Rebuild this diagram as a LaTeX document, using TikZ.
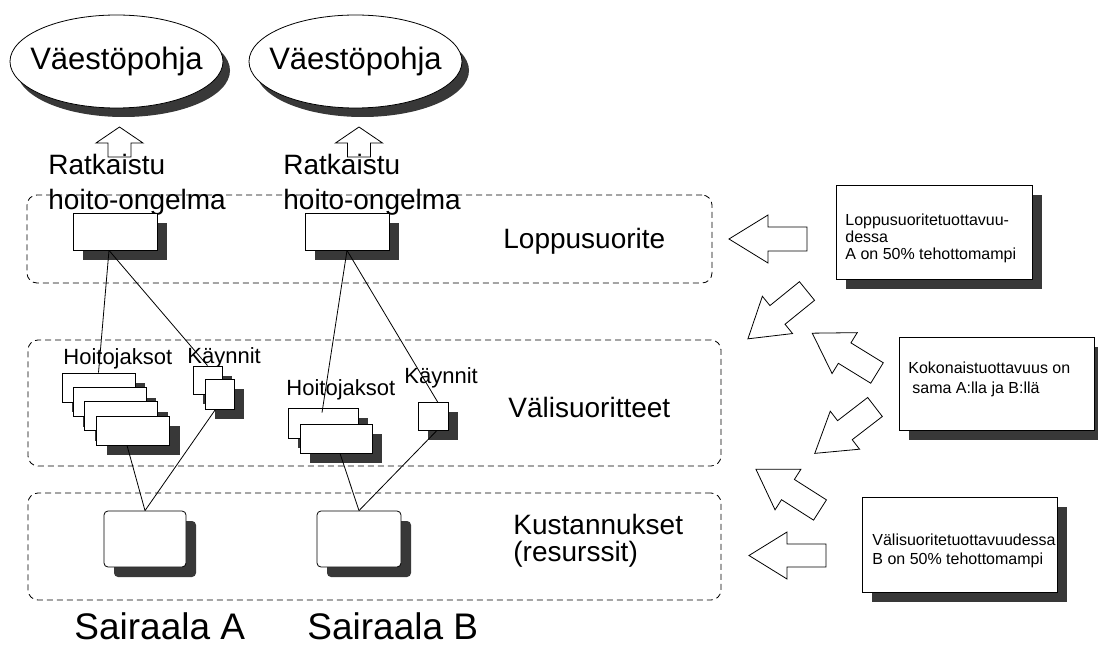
\documentclass[tikz,border=0pt]{standalone}
\usepackage{fontspec}
\setmainfont{Liberation Sans}
\usetikzlibrary{shapes,
                shapes.geometric,
                shadows,
                calc,
                positioning}

\begin{document}
\begin{tikzpicture}[
				x=1pt, y=-1pt,
				line width=0.8pt,
				shade box/.style={draw, fill=white, inner sep=0pt,
					drop shadow={shadow xshift=10pt, shadow yshift=-10pt, fill=black!78, opacity=1}},
				pop node/.style={ellipse, draw, fill=white, inner sep=0pt,
					minimum width=213pt, minimum height=93pt,
					label={[font=\fontsize{31}{37}\selectfont, inner sep=0pt]center:Väestöpohja},
					drop shadow={shadow xshift=7pt, shadow yshift=-9pt, fill=black!78, opacity=1}},
				layer/.style={draw, dash pattern=on 6pt off 4pt, rounded corners=10pt, inner sep=0pt},
				big label/.style={anchor=base west, inner sep=0pt, align=left, font=\fontsize{28}{35}\selectfont},
				unit label/.style={anchor=base west, inner sep=0pt, font=\fontsize{22}{26}\selectfont},
				note text/.style={anchor=base west, inner sep=0pt, align=left, font=\fontsize{16}{17.5}\selectfont},
				pics/blockarr/.style n args={4}{code={
					\draw[fill=white] (0,-#4) -- ({#1-#2},-#4) -- ({#1-#2},-#3) -- (#1,0)
						-- ({#1-#2},#3) -- ({#1-#2},#4) -- (0,#4) -- cycle;
				}}
				]
		\useasboundingbox (0,0) rectangle (1098,647);

		\node[layer, minimum width=685pt, minimum height=88pt] (lop) at (369.5,239) {};
		\node[layer, minimum width=693pt, minimum height=126pt] (val) at (374.5,403) {};
		\node[layer, minimum width=693pt, minimum height=107pt] (kus) at (374.5,546.5) {};

		\node[pop node] (popA) at (116.5,61.5) {};
		\node[pop node] (popB) at (355.5,61.5) {};

		\pic[rotate=90] at (119.5,157) {blockarr={30}{16}{23.5}{11.5}};
		\pic[rotate=90] at (359,157) {blockarr={30}{16}{23.5}{11.5}};

		\node[big label] (ratA) at (48,210) {Ratkaistu\\hoito-ongelma};
		\node[big label] (ratB) at (283,210) {Ratkaistu\\hoito-ongelma};

		\node[shade box, minimum width=84pt, minimum height=37pt] (lA) at (115,231.5) {};
		\node[shade box, minimum width=84pt, minimum height=37pt] (lB) at (347,231.5) {};

		\node[unit label] (hjA) at (63,364) {Hoitojaksot};
		\node[unit label] (kyA) at (187,363) {Käynnit};
		\node[shade box, minimum width=73pt, minimum height=29pt] (hA1) at (98.5,387.5) {};
		\node[shade box, minimum width=73pt, minimum height=29pt] (hA2) at (109.5,402) {};
		\node[shade box, minimum width=73pt, minimum height=29pt] (hA3) at (121,416) {};
		\node[shade box, minimum width=73pt, minimum height=29pt] (hA4) at (133,430.5) {};
		\node[shade box, minimum width=29pt, minimum height=28pt] (kA1) at (207.5,380) {};
		\node[shade box, minimum width=29pt, minimum height=30pt] (kA2) at (219.5,394) {};

		\node[unit label] (hjB) at (286,395) {Hoitojaksot};
		\node[unit label] (kyB) at (404,383) {Käynnit};
		\node[shade box, minimum width=70pt, minimum height=30pt] (hB1) at (323,423) {};
		\node[shade box, minimum width=72pt, minimum height=29pt] (hB2) at (336,438.5) {};
		\node[shade box, minimum width=30pt, minimum height=28pt] (kB) at (433,416) {};

		\node[shade box, rounded corners=4pt, minimum width=82pt, minimum height=56pt] (kuA) at (145,539) {};
		\node[shade box, rounded corners=4pt, minimum width=84pt, minimum height=56pt] (kuB) at (359,539) {};

		\draw ($(lA.south)+(-6,0)$) -- (hA1.north);
		\draw ($(lA.south)+(-6,0)$) -- (kA1.north);
		\draw (lB.south) -- ($(hB1.north)+(-1,5)$);
		\draw (lB.south) -- ($(kB.north)+(5,1)$);
		\draw ($(hA4.south)+(-6,0)$) -- (kuA.north);
		\draw ($(kA2.south)+(-4,0)$) -- (kuA.north);
		\draw ($(hB2.south)+(4,0)$) -- (kuB.north);
		\draw ($(kB.south)+(4,0)$) -- (kuB.north);

		\node[big label] (lopt) at (503,248) {Loppusuorite};
		\node[big label] (valt) at (508,417) {Välisuoritteet};
		\node[big label, font=\fontsize{28}{27}\selectfont] (kust) at (513,561) {Kustannukset\\(resurssit)};

		\node[big label, font=\fontsize{37}{40}\selectfont] (saA) at (74,639) {Sairaala A};
		\node[big label, font=\fontsize{37}{40}\selectfont] (saB) at (307,639) {Sairaala B};

		\node[shade box, minimum width=196pt, minimum height=94pt] (n1) at (934,232) {};
		\node[shade box, minimum width=195pt, minimum height=93pt] (n2) at (996.5,383.5) {};
		\node[shade box, minimum width=195pt, minimum height=95pt] (n3) at (959.5,544.5) {};
		\node[note text] (n1t) at (845,260) {Loppusuoritetuottavuu-\\dessa\\A on 50\% tehottomampi};
		\node[note text, font=\fontsize{16}{19.5}\selectfont] (n2t) at (908,393) {Kokonaistuottavuus on\\\hspace{4pt}sama A:lla ja B:llä};
		\node[note text, font=\fontsize{16}{19}\selectfont] (n3t) at (872,564) {Välisuoritetuottavuudessa\\B on 50\% tehottomampi};

		\pic[rotate=180] at (807,239) {blockarr={78}{39}{24}{12}};
		\pic[rotate=219] at (807,291) {blockarr={76}{38}{24}{12}};
		\pic[rotate=148.4] at (877,373) {blockarr={76}{38}{24}{12}};
		\pic[rotate=217.6] at (875,407) {blockarr={76}{38}{24}{12}};
		\pic[rotate=147.5] at (820,510) {blockarr={76}{38}{24}{12}};
		\pic[rotate=180] at (826,555.5) {blockarr={77}{38}{23.5}{11.5}};
\end{tikzpicture}
\end{document}
